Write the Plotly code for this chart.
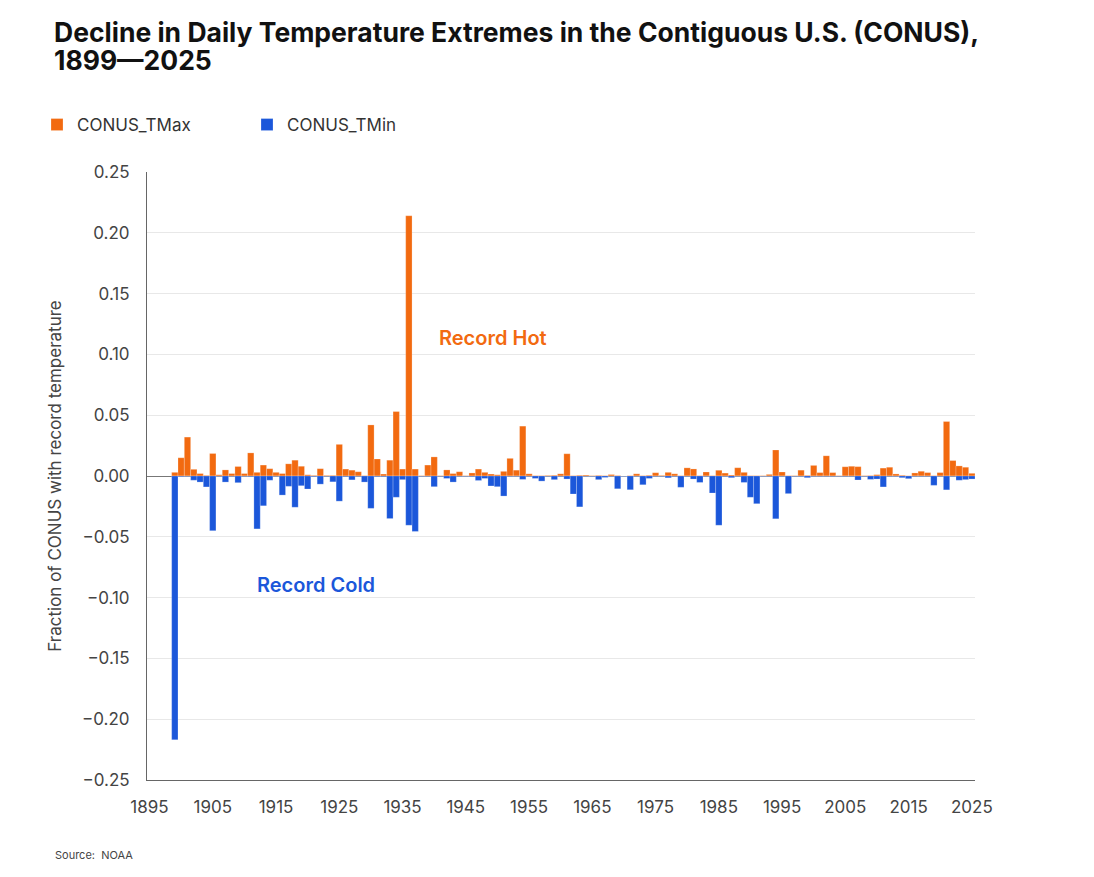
import plotly.graph_objects as go

# years 1899-2025, one value per year
years = list(range(1899, 2026))

# fraction of CONUS with record daily highs (TMax) per year
conus_tmax = [
    0.003, 0.015, 0.032, 0.0055, 0.002, 0.0005, 0.0185, 0.001, 0.005, 0.002,      # 1899-1908
    0.0078, 0.002, 0.019, 0.003, 0.009, 0.006, 0.003, 0.002, 0.010, 0.013,        # 1909-1918
    0.008, 0.001, 0.0005, 0.006, 0.0005, 0.0005, 0.026, 0.0057, 0.0048, 0.0035,   # 1919-1928
    0.0003, 0.042, 0.014, 0.0016, 0.013, 0.053, 0.0057, 0.214, 0.0057, 0.0003,   # 1929-1938
    0.009, 0.0157, 0.0003, 0.005, 0.002, 0.0035, 0.0003, 0.0025, 0.0057, 0.003,  # 1939-1948
    0.0016, 0.001, 0.0038, 0.0145, 0.0048, 0.041, 0.0018, 0.0003, 0.0003, 0.0005,  # 1949-1958
    0.0006, 0.0018, 0.0183, 0.0003, 0.0006, 0.0008, 0.0003, 0.0005, 0.0003, 0.0012,  # 1959-1968
    0.0004, 0.0, 0.0003, 0.0018, 0.0003, 0.0006, 0.0027, 0.0005, 0.003, 0.0018,   # 1969-1978
    0.0003, 0.0067, 0.0058, 0.0003, 0.0033, 0.0003, 0.0047, 0.0024, 0.0008, 0.0068,  # 1979-1988
    0.003, 0.0003, 0.0003, 0.0003, 0.0013, 0.0214, 0.0033, 0.0003, 0.0003, 0.0048,  # 1989-1998
    0.0005, 0.0087, 0.0028, 0.0166, 0.0028, 0.0003, 0.0076, 0.008, 0.0077, 0.0003,  # 1999-2008
    0.0004, 0.0011, 0.0065, 0.0072, 0.0017, 0.0006, 0.0002, 0.0025, 0.0039, 0.0028,  # 2009-2018
    0.0003, 0.0028, 0.0448, 0.0127, 0.0083, 0.0072, 0.0022,                      # 2019-2025
]

# fraction of CONUS with record daily lows (TMin) per year, shown negative
conus_tmin = [
    -0.217, -0.0005, -0.0003, -0.0035, -0.005, -0.009, -0.045, -0.0003, -0.005, -0.0003,
    -0.0055, -0.0003, -0.0005, -0.0435, -0.0245, -0.0035, -0.0003, -0.0157, -0.0085, -0.0257,
    -0.008, -0.0107, -0.0005, -0.0067, -0.0003, -0.0048, -0.0207, -0.0005, -0.0032, -0.0003,
    -0.005, -0.0266, -0.0005, -0.0005, -0.035, -0.0175, -0.003, -0.0405, -0.0456, -0.0003,
    -0.0003, -0.0088, -0.0003, -0.002, -0.005, -0.0003, -0.0003, -0.0005, -0.0037, -0.002,
    -0.0082, -0.0088, -0.0165, -0.0003, -0.0003, -0.0028, -0.0003, -0.002, -0.0042, -0.0003,
    -0.003, -0.0003, -0.0025, -0.0148, -0.0254, -0.0003, -0.0003, -0.003, -0.0012, -0.0003,
    -0.0105, -0.0003, -0.0113, -0.0003, -0.0072, -0.002, -0.0003, -0.0003, -0.0015, -0.0003,
    -0.0093, -0.0003, -0.0025, -0.0053, -0.0003, -0.014, -0.0405, -0.0003, -0.0014, -0.0003,
    -0.0053, -0.0175, -0.0228, -0.0003, -0.0003, -0.0352, -0.0003, -0.0145, -0.0003, -0.0003,
    -0.0014, -0.0003, -0.0003, -0.0003, -0.0003, -0.0003, -0.0003, -0.0003, -0.0033, -0.0003,
    -0.0028, -0.0025, -0.009, -0.0003, -0.0003, -0.0014, -0.0022, -0.0003, -0.0003, -0.0003,
    -0.0077, -0.0003, -0.0114, -0.0003, -0.0035, -0.003, -0.0025,
]

x_ticks = list(range(1895, 2026, 10))
y_ticks = [0.25, 0.20, 0.15, 0.10, 0.05, 0.0, -0.05, -0.10, -0.15, -0.20, -0.25]

title_lines = ["Decline in Daily Temperature Extremes in the Contiguous U.S. (CONUS),",
               "1899\u20142025"]

ORANGE = "#F26A10"
BLUE = "#1B57DA"
FONT = "Inter"

# page has an 8px body margin, so the figure is drawn 8px in from the corner
# helpers: page pixel -> paper coords (plot area spans x 147..975, y 172..780 on the page)
def px_x(v):
    return (v - 147) / 828

def px_y(v):
    return (780 - v) / 608

fig = go.Figure()
fig.add_trace(go.Bar(x=years, y=conus_tmax, name="CONUS_TMax", width=1,
                     marker=dict(color=ORANGE, line=dict(width=0.5, color="rgba(255,255,255,0.45)"))))
fig.add_trace(go.Bar(x=years, y=conus_tmin, name="CONUS_TMin", width=1,
                     marker=dict(color=BLUE, line=dict(width=0.5, color="rgba(255,255,255,0.45)"))))

fig.update_layout(
    width=1078, height=861,
    barmode="overlay",
    plot_bgcolor="white", paper_bgcolor="white",
    margin=dict(l=139, r=111, t=164, b=89),
    font=dict(family=FONT, size=17, color="#444"),
    legend=dict(
        orientation="h", x=px_x(37), xanchor="left",
        y=px_y(125), yanchor="middle",
        entrywidth=165, entrywidthmode="pixels",
        font=dict(size=17, color="#333"),
        traceorder="normal",
    ),
    showlegend=True,
)

fig.update_xaxes(
    range=[1894.6, 2025.5], tickvals=x_ticks, ticktext=[str(t) for t in x_ticks],
    showgrid=False, showline=True, linecolor="#666", linewidth=1,
    ticks="", ticklabelstandoff=12, tickfont=dict(size=17, color="#444"),
    zeroline=False,
)
fig.update_yaxes(
    range=[-0.25, 0.25], tickvals=y_ticks, tickformat=".2f",
    showgrid=True, gridcolor="#E8E8E8", gridwidth=1,
    showline=True, linecolor="#666", linewidth=1,
    zeroline=True, zerolinecolor="#777", zerolinewidth=1,
    ticks="", ticklabelstandoff=13, tickfont=dict(size=17, color="#444"),
    title=dict(text="Fraction of CONUS with record temperature", standoff=16,
               font=dict(size=17, color="#444")),
)

# title as two annotation lines (tighter line spacing than plotly's title)
for txt, yy in zip(title_lines, [32, 60]):
    fig.add_annotation(x=px_x(52), y=px_y(yy), xref="paper", yref="paper", text=txt,
                       showarrow=False, xanchor="left", yanchor="middle",
                       font=dict(family=FONT, size=26.5, weight=700, color="#111"))

fig.add_annotation(x=1940.4, y=0.1135, xref="x", yref="y", text="Record Hot",
                   showarrow=False, xanchor="left", yanchor="middle",
                   font=dict(family=FONT, size=20, weight=600, color=ORANGE))
fig.add_annotation(x=1911.6, y=-0.0895, xref="x", yref="y", text="Record Cold",
                   showarrow=False, xanchor="left", yanchor="middle",
                   font=dict(family=FONT, size=20, weight=600, color=BLUE))
fig.add_annotation(x=px_x(53), y=px_y(855), xref="paper", yref="paper",
                   text="Source:  NOAA", showarrow=False, xanchor="left", yanchor="middle",
                   font=dict(family=FONT, size=11, color="#444"))

fig.write_html("out.html")
